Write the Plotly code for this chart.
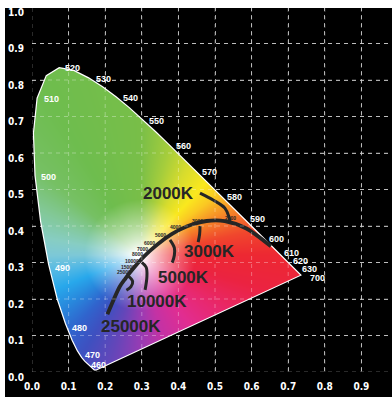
import numpy as np
import plotly.graph_objects as go

# CIE 1931 2-degree spectral locus, 380-700 nm in 5 nm steps
wavelengths = list(range(380, 705, 5))
locus_x = [0.1741, 0.1740, 0.1738, 0.1736, 0.1733, 0.1730, 0.1726, 0.1721, 0.1714, 0.1703,
           0.1689, 0.1669, 0.1644, 0.1611, 0.1566, 0.1510, 0.1440, 0.1355, 0.1241, 0.1096,
           0.0913, 0.0687, 0.0454, 0.0235, 0.0082, 0.0039, 0.0139, 0.0389, 0.0743, 0.1142,
           0.1547, 0.1929, 0.2296, 0.2658, 0.3016, 0.3373, 0.3731, 0.4087, 0.4441, 0.4788,
           0.5125, 0.5448, 0.5752, 0.6029, 0.6270, 0.6482, 0.6658, 0.6801, 0.6915, 0.7006,
           0.7079, 0.7140, 0.7190, 0.7230, 0.7260, 0.7283, 0.7300, 0.7311, 0.7320, 0.7327,
           0.7334, 0.7340, 0.7344, 0.7346, 0.7347]
locus_y = [0.0050, 0.0050, 0.0049, 0.0049, 0.0048, 0.0048, 0.0048, 0.0048, 0.0051, 0.0058,
           0.0069, 0.0086, 0.0109, 0.0138, 0.0177, 0.0227, 0.0297, 0.0399, 0.0578, 0.0868,
           0.1327, 0.2007, 0.2950, 0.4127, 0.5384, 0.6548, 0.7502, 0.8120, 0.8338, 0.8262,
           0.8059, 0.7816, 0.7543, 0.7243, 0.6923, 0.6589, 0.6245, 0.5896, 0.5547, 0.5202,
           0.4866, 0.4544, 0.4242, 0.3965, 0.3725, 0.3514, 0.3340, 0.3197, 0.3083, 0.2993,
           0.2920, 0.2859, 0.2809, 0.2770, 0.2740, 0.2717, 0.2700, 0.2689, 0.2680, 0.2673,
           0.2666, 0.2660, 0.2656, 0.2654, 0.2653]

# Wavelengths that carry a label on the locus
labelled_nm = [380, 460, 470, 480, 490, 500, 510, 520, 530, 540, 550, 560,
               570, 580, 590, 600, 610, 620, 630, 700]

# Planckian (blackbody) locus
planck_cct = [1000, 1500, 2000, 2500, 3000, 3500, 4000, 5000, 6000, 7000, 8000, 10000, 15000, 25000]
planck_x = [0.6528, 0.5857, 0.5267, 0.4770, 0.4369, 0.4053, 0.3805, 0.3451, 0.3221, 0.3064,
            0.2952, 0.2807, 0.2637, 0.2525]
planck_y = [0.3444, 0.3931, 0.4133, 0.4137, 0.4041, 0.3907, 0.3768, 0.3516, 0.3318, 0.3166,
            0.3048, 0.2884, 0.2674, 0.2522]
planck_inf = (0.2399, 0.2342)

# Small CCT markers written along the curve
small_cct = ["2000", "3000", "4000", "5000", "6000", "7000", "8000", "10000", "15000", "25000"]
# Large call-out labels
big_cct = ["2000K", "3000K", "5000K", "10000K", "25000K"]

axis_ticks = [round(0.1 * i, 1) for i in range(11)]

# ---------------------------------------------------------------- layout constants
W, H = 392, 397
ML, MR, MT, MB = 32, 0, 7, 25
X_MAX = (W - ML - MR) / 366.0
TICK_FONT = "Liberation Sans Narrow, Arial Narrow, DejaVu Sans Condensed, sans-serif"
LABEL_FONT = "Liberation Sans, Arial, sans-serif"
INK = "#262626"

# ---------------------------------------------------------------- colour fill of the gamut
nx, ny = 275, 310
dx, dy = X_MAX / (W - ML - MR), 1.0 / (H - MT - MB)
gx = dx / 2 + dx * np.arange(nx)
gy = dy / 2 + dy * np.arange(ny)
PX, PY = np.meshgrid(gx, gy)


def inside_polygon(px, py, vx, vy):
    res = np.zeros(px.shape, dtype=bool)
    n = len(vx)
    j = n - 1
    for i in range(n):
        xi, yi, xj, yj = vx[i], vy[i], vx[j], vy[j]
        crosses = (yi > py) != (yj > py)
        denom = (yj - yi) if yj != yi else 1e-12
        xint = (xj - xi) * (py - yi) / denom + xi
        res ^= crosses & (px < xint)
        j = i
    return res


mask = inside_polygon(PX, PY, locus_x, locus_y)

# hue wheel around the white point: angle (deg) -> saturated colour
white_pt = (0.295, 0.320)
hue_ang = [-180, -170, -158, -145, -132, -120, -105, -90, -75, -55, -35, -15, 0, 12, 25, 38,
           48, 62, 75, 90, 120, 140, 155, 170, 180]
hue_rgb = [(125, 200, 215), (85, 185, 228), (40, 168, 235), (40, 135, 220), (48, 100, 205),
           (62, 80, 192), (100, 70, 185), (150, 60, 180), (195, 50, 165), (225, 45, 145),
           (232, 40, 110), (235, 35, 65), (237, 40, 50), (240, 70, 45), (245, 130, 40),
           (250, 200, 35), (250, 232, 30), (215, 220, 45), (165, 205, 60), (120, 190, 72),
           (110, 189, 78), (118, 192, 100), (130, 200, 150), (135, 205, 195), (125, 200, 215)]
hue_rgb = np.array(hue_rgb, dtype=float)

ang = np.degrees(np.arctan2(PY - white_pt[1], PX - white_pt[0]))
dist = np.hypot(PX - white_pt[0], PY - white_pt[1])
sat = np.clip((dist - 0.012) / 0.14, 0, 1) ** 0.8
img = np.zeros((ny, nx, 4))
for c in range(3):
    hue_c = np.interp(ang, hue_ang, hue_rgb[:, c])
    img[..., c] = 255 * (1 - sat) + hue_c * sat
img[..., :3] = np.round(img[..., :3])
img[..., 3] = mask.astype(float)

fig = go.Figure()
fig.add_trace(go.Image(z=img.tolist(), colormodel="rgba", x0=gx[0], y0=gy[0], dx=dx, dy=dy,
                       hoverinfo="skip"))

# outline of the spectral locus and purple line
fig.add_trace(go.Scatter(x=locus_x + [locus_x[0]], y=locus_y + [locus_y[0]], mode="lines",
                         line=dict(color="white", width=1.2), hoverinfo="skip",
                         showlegend=False))

# ---------------------------------------------------------------- Planckian locus
arc_x = planck_x + [planck_inf[0], 0.206]
arc_y = planck_y + [planck_inf[1], 0.158]
fig.add_trace(go.Scatter(x=arc_x, y=arc_y, mode="lines",
                         line=dict(color=INK, width=3.8, shape="spline", smoothing=0.8),
                         hoverinfo="skip", showlegend=False))

# leader strokes from the call-outs to the curve
leaders = [
    ([0.459, 0.495, 0.527, 0.538, 0.541], [0.490, 0.471, 0.449, 0.425, 0.411]),
    ([0.459, 0.458, 0.454], [0.400, 0.378, 0.356]),
    ([0.377, 0.389, 0.389, 0.383], [0.362, 0.340, 0.320, 0.299]),
    ([0.300, 0.312, 0.314, 0.309], [0.300, 0.287, 0.262, 0.225]),
    ([0.264, 0.275, 0.270, 0.258], [0.262, 0.248, 0.233, 0.224]),
]
for lx, ly in leaders:
    fig.add_trace(go.Scatter(x=lx, y=ly, mode="lines",
                             line=dict(color=INK, width=3.0, shape="spline", smoothing=1.0),
                             hoverinfo="skip", showlegend=False))

annotations = []
# wavelength labels
wl_pos = {380: (0.208, -0.005), 460: (0.183, 0.019), 470: (0.164, 0.047), 480: (0.131, 0.121),
          490: (0.082, 0.285), 500: (0.044, 0.534), 510: (0.052, 0.748), 520: (0.112, 0.833),
          530: (0.194, 0.803), 540: (0.268, 0.751), 550: (0.339, 0.688), 560: (0.413, 0.619),
          570: (0.484, 0.548), 580: (0.552, 0.479), 590: (0.617, 0.419), 600: (0.669, 0.364),
          610: (0.710, 0.326), 620: (0.733, 0.305), 630: (0.757, 0.281), 700: (0.781, 0.257)}
for nm in labelled_nm:
    px_, py_ = wl_pos[nm]
    annotations.append(dict(x=px_, y=py_, xref="x", yref="y", text=str(nm), showarrow=False,
                            font=dict(family=LABEL_FONT, size=9, color="white", weight="bold")))

# tiny CCT markers
small_pos = [(0.541, 0.421), (0.451, 0.413), (0.393, 0.398), (0.350, 0.374), (0.320, 0.354),
             (0.303, 0.338), (0.287, 0.322), (0.273, 0.305), (0.262, 0.289), (0.251, 0.275)]
for t, (px_, py_) in zip(small_cct, small_pos):
    annotations.append(dict(x=px_, y=py_, xref="x", yref="y", text=t, showarrow=False,
                            font=dict(family=LABEL_FONT, size=5, color=INK, weight="bold")))

# big call-out labels
big_pos = [(0.372, 0.490), (0.486, 0.331), (0.415, 0.260), (0.342, 0.193), (0.270, 0.126)]
for t, (px_, py_) in zip(big_cct, big_pos):
    annotations.append(dict(x=px_, y=py_, xref="x", yref="y", text=t, showarrow=False,
                            font=dict(family=LABEL_FONT, size=17, color=INK, weight="bold")))

tickfont = dict(family=TICK_FONT, size=10, color="white", weight="bold")
# y tick labels sit just below their grid lines
for v in axis_ticks:
    annotations.append(dict(x=0, y=v, xref="paper", yref="y", text=f"{v:.1f}", showarrow=False,
                            xanchor="right", yanchor="middle", xshift=-6, yshift=-5,
                            font=tickfont))

# dashed grid drawn over the colour fill
shapes = []
for v in axis_ticks[:-1]:
    shapes.append(dict(type="line", xref="x", yref="y", x0=v, x1=v, y0=0, y1=1, layer="above",
                       line=dict(color="rgba(255,255,255,0.32)", width=1, dash="4px,4px")))
    shapes.append(dict(type="line", xref="x", yref="y", x0=0, x1=X_MAX, y0=v, y1=v, layer="above",
                       line=dict(color="rgba(255,255,255,0.32)", width=1, dash="4px,4px")))
# white frame strips along the top and left edges
shapes.append(dict(type="rect", xref="paper", yref="paper", x0=-1, x1=2,
                   y0=1 - 1.0 / (H - MT - MB), y1=1.5, fillcolor="white", line=dict(width=0),
                   layer="above"))
shapes.append(dict(type="rect", xref="paper", yref="paper", x0=-1,
                   x1=(5 - ML) / (W - ML - MR), y0=-1, y1=2, fillcolor="white",
                   line=dict(width=0), layer="above"))

fig.update_layout(
    width=W, height=H,
    margin=dict(l=ML, r=MR, t=MT, b=MB, pad=0),
    paper_bgcolor="black", plot_bgcolor="black",
    showlegend=False,
    annotations=annotations,
    shapes=shapes,
    xaxis=dict(range=[0, X_MAX], tickvals=axis_ticks[:-1],
               ticktext=[f"{v:.1f}" for v in axis_ticks[:-1]],
               showgrid=True, gridcolor="#a0a0a0", griddash="4px,4px", gridwidth=1,
               zeroline=False, showline=False, ticks="", tickfont=tickfont,
               ticklabelstandoff=7, fixedrange=True),
    yaxis=dict(range=[0, 1], tickvals=axis_ticks, showticklabels=False,
               showgrid=True, gridcolor="#a0a0a0", griddash="4px,4px", gridwidth=1,
               zeroline=False, showline=False, ticks="",
               scaleanchor=False, fixedrange=True),
)

fig.write_html("out.html")
